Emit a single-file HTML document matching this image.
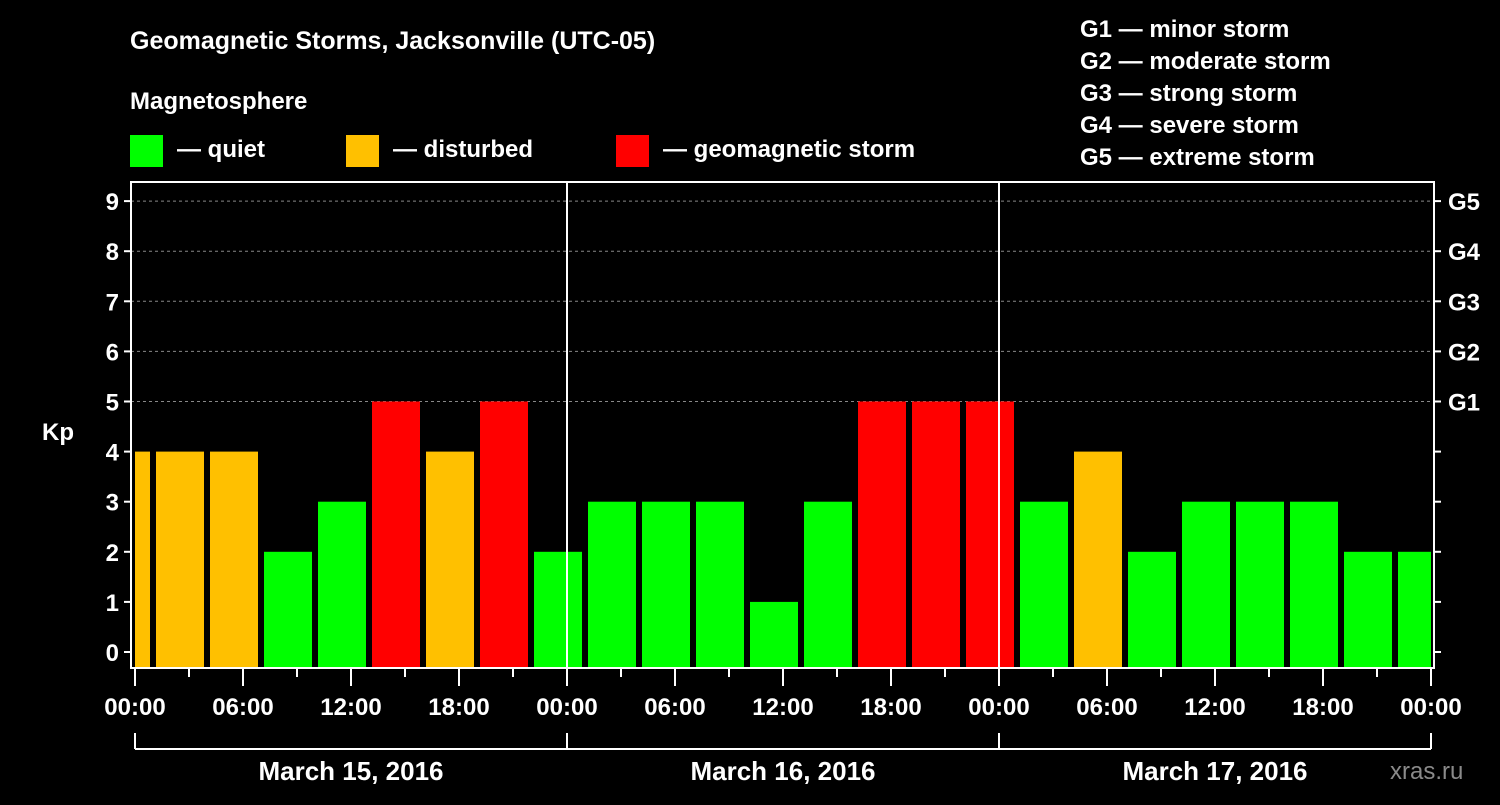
<!DOCTYPE html>
<html><head><meta charset="utf-8"><style>
body{margin:0;background:#000;width:1500px;height:800px;overflow:hidden}
svg text{font-family:"Liberation Sans",sans-serif;font-weight:bold;fill:#fff}
</style></head><body>
<svg id="c" width="1500" height="800">
<text x="130" y="49" font-size="25">Geomagnetic Storms, Jacksonville (UTC-05)</text>
<text x="130" y="109" font-size="24">Magnetosphere</text>
<rect x="130" y="135" width="33" height="32" fill="#00ff00"/>
<text x="177" y="157" font-size="24">— quiet</text>
<rect x="346" y="135" width="33" height="32" fill="#ffc000"/>
<text x="393" y="157" font-size="24">— disturbed</text>
<rect x="616" y="135" width="33" height="32" fill="#ff0000"/>
<text x="663" y="157" font-size="24">— geomagnetic storm</text>
<g font-size="24">
<text x="1080" y="37">G1 — minor storm</text>
<text x="1080" y="69">G2 — moderate storm</text>
<text x="1080" y="101">G3 — strong storm</text>
<text x="1080" y="133">G4 — severe storm</text>
<text x="1080" y="165">G5 — extreme storm</text>
</g>
<text x="42" y="440" font-size="24">Kp</text>
<text x="1390" y="779" font-size="24" fill="#888" style="fill:#8a8a8a;font-weight:normal">xras.ru</text>
<g id="plot"></g>
</svg>
<script>
const kpValues=[4,4,4,2,3,5,4,5,2,3,3,3,1,3,5,5,5,3,4,2,3,3,3,2,2];
const firstSlotHour=-2;
const slotHours=3;
const yTicks=[0,1,2,3,4,5,6,7,8,9];
const gLabels=["G1","G2","G3","G4","G5"];
const xTickLabels=["00:00","06:00","12:00","18:00"];
const dates=["March 15, 2016","March 16, 2016","March 17, 2016"];
const totalHours=72;

const NS="http://www.w3.org/2000/svg";
const X0=135, PX=18, LEFT=131, RIGHT=1434, TOP=182, BOT=668;
const x=h=>X0+PX*h;
const y=v=>652-v*50.1;
const g=document.getElementById('plot');
function mk(t,a,p){const e=document.createElementNS(NS,t);for(const k in a)e.setAttribute(k,a[k]);(p||g).appendChild(e);return e;}

// grid
yTicks.forEach(v=>{
 if(v>=5){const l=mk('line',{x1:LEFT,x2:RIGHT,y1:y(v),y2:y(v),stroke:'#888','stroke-dasharray':'3,3','stroke-width':1});
 
 }
 const t=mk('line',{x1:LEFT-7,x2:LEFT,y1:y(v),y2:y(v),stroke:'#fff','stroke-width':2});
 
 
 const tx=mk('text',{x:LEFT-12,y:y(v)+9,'text-anchor':'end','font-size':24});tx.textContent=v;
 
 
 const rt=mk('line',{x1:RIGHT,x2:RIGHT+7,y1:y(v),y2:y(v),stroke:'#fff','stroke-width':2});
 
 
 if(v>=5){const gt=mk('text',{x:RIGHT+14,y:y(v)+9,'font-size':24});gt.textContent=gLabels[v-5];
 
 }
});
// bars
kpValues.forEach((v,i)=>{
 let h0=firstSlotHour+i*slotHours,h1=h0+slotHours;
 let a=x(h0)+3,b=x(h1)-3;
 a=Math.max(a,x(0));b=Math.min(b,x(totalHours));
 const col=v>=5?'#ff0000':(v>=4?'#ffc000':'#00ff00');
 const r=mk('rect',{x:a,y:y(v),width:b-a,height:BOT-y(v),fill:col});
 
 
});
// day separators
[24,48].forEach(h=>{const l=mk('line',{x1:x(h),x2:x(h),y1:TOP,y2:BOT,stroke:'#fff','stroke-width':2});
 
 });
// frame
const f=mk('rect',{x:LEFT,y:TOP,width:RIGHT-LEFT,height:BOT-TOP,fill:'none',stroke:'#fff','stroke-width':2});


// x ticks
for(let h=0;h<=totalHours;h+=3){
 const major=h%6===0;
 const l=mk('line',{x1:x(h),x2:x(h),y1:BOT,y2:BOT+(major?18:9),stroke:'#fff','stroke-width':2});
 
 
 if(major){const t=mk('text',{x:x(h),y:715,'text-anchor':'middle','font-size':24});
 t.textContent=xTickLabels[(h%24)/6];
 
 }
}
// date bracket
const bl=mk('line',{x1:x(0),x2:x(totalHours),y1:749,y2:749,stroke:'#fff','stroke-width':2});


for(let d=0;d<=3;d++){const l=mk('line',{x1:x(d*24),x2:x(d*24),y1:733,y2:749,stroke:'#fff','stroke-width':2});
 
 }
dates.forEach((d,i)=>{const t=mk('text',{x:x(i*24+12),y:780,'text-anchor':'middle','font-size':26});t.textContent=d;
 
 });
</script>
</body></html>
